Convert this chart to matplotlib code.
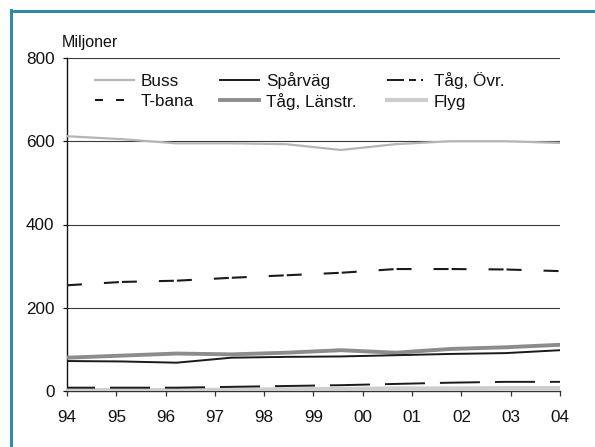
import matplotlib
matplotlib.use("Agg")
import matplotlib.pyplot as plt
from matplotlib.lines import Line2D
import numpy as np

plt.rcParams['font.family'] = ['Liberation Sans', 'DejaVu Sans']
plt.rcParams['lines.scale_dashes'] = False

# ---------------------------------------------------------------------
# Data (miljoner resor), ten points spread over the 94-04 axis
# ---------------------------------------------------------------------
year_labels = ['94', '95', '96', '97', '98', '99', '00', '01', '02', '03', '04']
buss = [612, 605, 595, 595, 593, 579, 593, 600, 600, 596]
t_bana = [254, 262, 265, 272, 278, 284, 293, 293, 292, 288]
sparvag = [72, 71, 68, 80, 82, 83, 86, 89, 91, 98]
tag_lanstr = [80, 85, 90, 88, 92, 98, 92, 101, 105, 111]
tag_ovr = [8, 8, 8, 10, 12, 14, 17, 20, 22, 22]
flyg = [2, 2, 2, 3, 4, 5, 6, 6, 7, 7]
labels = ['Buss', 'T-bana', 'Spårväg', 'Tåg, Länstr.', 'Tåg, Övr.', 'Flyg']

W, H = 595, 447
fig = plt.figure(figsize=(W / 100, H / 100), dpi=100)
ax = fig.add_axes([67 / W, 1 - 391 / H, (560 - 67) / W, (391 - 58) / H])

tick_pos = np.arange(94, 94 + len(year_labels))
x = np.linspace(tick_pos[0], tick_pos[-1], len(buss))

px = 0.72  # pixel -> point

# styles: (color, lw, linestyle in plot, linestyle in legend)
styles = {
    'Buss': ('#b5b5b5', 1.6, '-', '-'),
    'T-bana': ('#1a1a1a', 1.5, (18 * px, (15 * px, 3 * px, 15 * px, 22 * px)),
               (0, (8 * px, 13 * px))),
    'Spårväg': ('#1a1a1a', 1.4, '-', '-'),
    'Tåg, Länstr.': ('#8c8c8c', 2.8, '-', '-'),
    'Tåg, Övr.': ('#1a1a1a', 1.4, (12 * px, (40 * px, 15 * px)),
                  (0, (17 * px, 5 * px, 7 * px, 5 * px, 2 * px, 6 * px))),
    'Flyg': ('#cdcdcd', 3.0, '-', '-'),
}
series = {'Buss': buss, 'T-bana': t_bana, 'Spårväg': sparvag,
          'Tåg, Länstr.': tag_lanstr, 'Tåg, Övr.': tag_ovr, 'Flyg': flyg}
zorders = {'Buss': 3, 'T-bana': 3, 'Tåg, Länstr.': 3, 'Spårväg': 4,
           'Flyg': 3, 'Tåg, Övr.': 4}

# gridlines
for v in [200, 400, 600, 800]:
    ax.axhline(v, color='#3a3a3a', lw=0.8, zorder=1)

for name in ['Buss', 'T-bana', 'Tåg, Länstr.', 'Spårväg', 'Flyg', 'Tåg, Övr.']:
    col, lw, ls, _ = styles[name]
    ax.plot(x, series[name], color=col, lw=lw, linestyle=ls,
            dash_capstyle='butt', zorder=zorders[name])

# hand-placed legend (3 columns x 2 rows) so rows line up across columns
handle_x = [95, 220, 387]
text_x = [141, 266, 434]
row_y = [79.5, 100]
baseline_y = [86, 106.5]
for i, name in enumerate(labels):
    c, r = i // 2, i % 2
    col, lw, _, lls = styles[name]
    y = 1 - row_y[r] / H
    fig.add_artist(Line2D([handle_x[c] / W, (handle_x[c] + 39) / W], [y, y],
                          color=col, lw=lw, linestyle=lls, dash_capstyle='butt',
                          transform=fig.transFigure))
    fig.text(text_x[c] / W, 1 - baseline_y[r] / H, name, fontsize=12.3,
             va='baseline', ha='left', color='#111111')

ax.set_xlim(94, 104)
ax.set_ylim(0, 800)
ax.set_xticks(tick_pos)
ax.set_xticklabels(year_labels)
ax.set_yticks([0, 200, 400, 600, 800])

ax.spines['top'].set_visible(False)
ax.spines['right'].set_visible(False)
ax.spines['left'].set_color('#111111')
ax.spines['left'].set_linewidth(1.0)
ax.spines['bottom'].set_color('#333333')
ax.spines['bottom'].set_linewidth(1.0)
ax.tick_params(axis='x', direction='out', length=3.8, width=0.9,
               color='#333333', pad=10, labelsize=12.3, labelcolor='#111111')
ax.tick_params(axis='y', direction='out', length=3, width=0.9,
               color='#111111', pad=6, labelsize=12.3, labelcolor='#111111')

fig.text(62 / W, 1 - 43 / H, 'Miljoner', fontsize=11.5, va='center',
         ha='left', color='#111111')

# teal frame (top and left edges)
teal = '#2f8ba5'
fig.add_artist(Line2D([10.5 / W, 1.0], [1 - 11 / H, 1 - 11 / H], color=teal,
                      lw=2.2, transform=fig.transFigure))
fig.add_artist(Line2D([11 / W, 11 / W], [0.0, 1 - 10 / H], color=teal,
                      lw=2.2, transform=fig.transFigure))

fig.savefig('out.png', dpi=100)
